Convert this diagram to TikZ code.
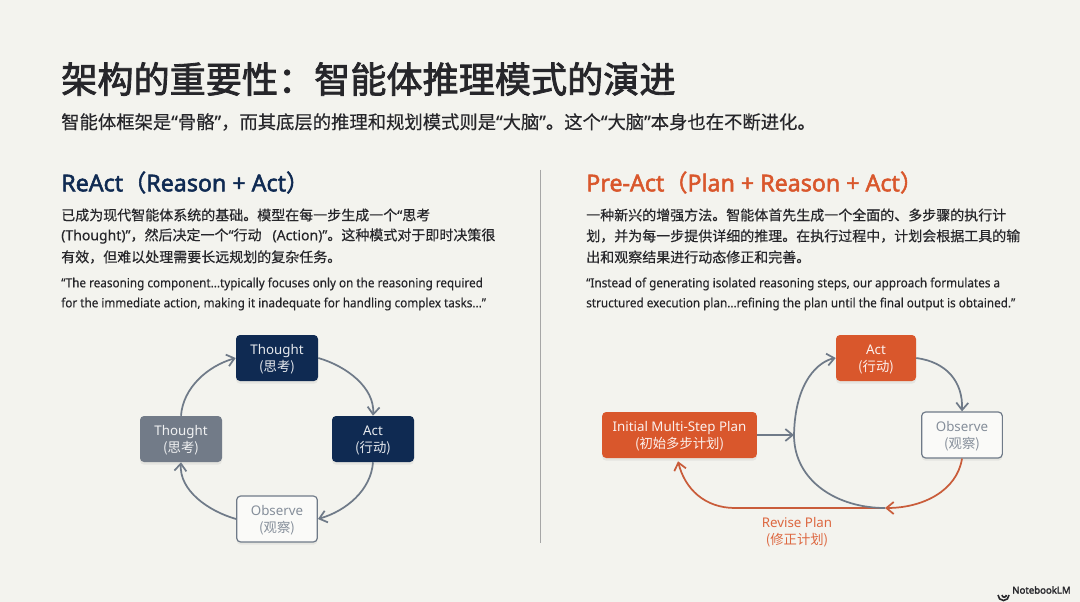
\documentclass[tikz,border=0pt]{standalone}
\usepackage{fontspec}
\setmainfont{Noto Sans CJK SC}
\newfontfamily\lat{Noto Sans}
\newfontfamily\latq[FakeStretch=0.93,FakeBold=0.3]{Noto Sans}
\newfontfamily\latb[FakeBold=0.3]{Noto Sans}
\newfontfamily\latmed[FakeBold=2.2]{Noto Sans}
\newfontfamily\cjkmed[FakeBold=2.2]{Noto Sans CJK SC}
\newfontfamily\cjkbody[FakeBold=0.35]{Noto Sans CJK SC}
\newcommand\qo{{\latb “}}
\newcommand\qc{{\latb ”}}
\newcommand\boxlines[2]{\raisebox{-1.2pt}[\height][\depth]{\begin{tabular}{@{}c@{}}{\lat #1}\\#2\end{tabular}}}
\usetikzlibrary{shadows,arrows.meta}
\definecolor{bgc}{HTML}{F3F3EE}
\definecolor{navy}{HTML}{0F2A52}
\definecolor{orng}{HTML}{D9572C}
\definecolor{slate}{HTML}{727B88}
\definecolor{ink}{HTML}{26262A}
\definecolor{arc}{HTML}{6F7A88}
\tikzset{
 txt/.style={anchor=west,inner sep=0pt,text=ink,font=\fontsize{10.5pt}{14pt}\selectfont\cjkbody},
 quoteline/.style={anchor=west,inner sep=0pt,text=ink,font=\fontsize{9.45pt}{14pt}\selectfont\latq},
 heading/.style={anchor=west,inner sep=0pt,font=\fontsize{17.4pt}{20pt}\selectfont\latmed},
 boxn/.style={rounded corners=3pt,minimum height=34.5pt,inner sep=0pt,
   font=\fontsize{10pt}{12.5pt}\selectfont,
   drop shadow={opacity=.12,shadow xshift=0pt,shadow yshift=-2pt}},
 darkbox/.style={boxn,minimum width=61.5pt,fill=navy,text=white!90!navy},
 graybox/.style={boxn,minimum width=61.5pt,fill=slate,text=white!90!slate},
 whitebox/.style={boxn,minimum width=60.5pt,fill=white!60!bgc,draw=arc,line width=.9pt,text=arc!85!white},
 orbox/.style={boxn,fill=orng,text=white!92!orng},
 conn/.style={draw=arc,line width=1.3pt,-{Straight Barb[length=5.5pt,width=9pt]}},
 connplain/.style={draw=arc,line width=1.3pt},
 connor/.style={draw=orng!85!arc,line width=1.3pt,-{Straight Barb[length=5.5pt,width=9pt]}},
 connorplain/.style={draw=orng!85!arc,line width=1.3pt},
}
\begin{document}
\begin{tikzpicture}[x=0.75pt,y=-0.75pt]
\useasboundingbox (0,0) rectangle (1080,602);
\fill[bgc] (0,0) rectangle (1080,602);
% title
\node[anchor=west,inner sep=0pt,text=ink,font=\fontsize{27.1pt}{30pt}\selectfont\cjkmed] (title) at (61,79) {架构的重要性：智能体推理模式的演进};
\node[anchor=west,inner sep=0pt,text=ink,font=\fontsize{13.75pt}{16pt}\selectfont\cjkbody] (sub) at (61,122) {智能体框架是\qo 骨骼\qc ，而其底层的推理和规划模式则是\qo 大脑\qc 。这个\qo 大脑\qc 本身也在不断进化。};
% divider
\coordinate (d1) at (540,170); \coordinate (d2) at (540,543);
\draw[draw=black!35,line width=.7pt] (d1) -- (d2);
% left column
\node[heading,text=navy] (lh) at (61,182.5) {ReAct{\cjkmed （}Reason + Act{\cjkmed ）}};
\node[txt] (l1) at (61,215) {已成为现代智能体系统的基础。模型在每一步生成一个\qo 思考};
\node[txt] (l2) at (61,236) {{\latb (Thought)”}，然后决定一个\qo 行动{\latb\ \ \ (Action)”}。这种模式对于即时决策很};
\node[txt] (l3) at (61,257) {有效，但难以处理需要长远规划的复杂任务。};
\node[quoteline] (l4) at (61,284) {“The reasoning component...typically focuses only on the reasoning required};
\node[quoteline] (l5) at (61,304) {for the immediate action, making it inadequate for handling complex tasks...”};
% right column
\node[heading,text=orng] (rh) at (586,182.5) {Pre-Act{\cjkmed （}Plan + Reason + Act{\cjkmed ）}};
\node[txt] (r1) at (586,215) {一种新兴的增强方法。智能体首先生成一个全面的、多步骤的执行计};
\node[txt] (r2) at (586,236) {划，并为每一步提供详细的推理。在执行过程中，计划会根据工具的输};
\node[txt] (r3) at (586,257) {出和观察结果进行动态修正和完善。};
\node[quoteline] (r4) at (586,284) {“Instead of generating isolated reasoning steps, our approach formulates a};
\node[quoteline] (r5) at (586,304) {structured execution plan...refining the plan until the final output is obtained.”};
% ReAct cycle
\node[darkbox] (t) at (277,358) {\boxlines{Thought}{(思考)}};
\node[darkbox] (a) at (373,439) {\boxlines{Act}{(行动)}};
\node[whitebox] (o) at (277,519) {\boxlines{Observe}{(观察)}};
\node[graybox] (g) at (181,439) {\boxlines{Thought}{(思考)}};
\draw[conn] (t.east) .. controls +(28,8) and +(2,-28) .. (a.north);
\draw[conn] (a.south) .. controls +(-2,28) and +(28,-8) .. (o.east);
\draw[conn] (o.west) .. controls +(-28,-8) and +(-2,28) .. (g.south);
\draw[conn] (g.north) .. controls +(2,-28) and +(-28,8) .. (t.west);
% Pre-Act cycle
\node[orbox,minimum width=60pt] (pa) at (876,358) {\boxlines{Act}{(行动)}};
\node[whitebox] (po) at (962,435) {\boxlines{Observe}{(观察)}};
\node[orbox,minimum width=116pt] (pi) at (679.5,435) {\boxlines{Initial Multi-Step Plan}{(初始多步计划)}};
\coordinate (pj) at (794,435);
\coordinate (pb) at (885,508);
\coordinate (pl) at (735,508);
\draw[connorplain] (pb) -- (pl);
\draw[connor] (pl) .. controls +(-30,0) and +(7,28) .. ([shift={(-1.5,3)}]pi.south);
\draw[connor] (po.south) .. controls +(-5,32) and +(38,0) .. (pb);
\draw[connplain] (pb) .. controls +(-48,0) and +(0,46) .. (pj);
\draw[conn] (pj) .. controls +(1,-55) and +(-16,3) .. (pa.west);
\draw[conn] (pi.east) -- (pj);
\draw[conn] (pa.east) .. controls +(30,4) and +(1,-30) .. (po.north);
\node[inner sep=0pt,align=center,text=orng!90!white,font=\fontsize{10pt}{13pt}\selectfont] (rv) at (797,532) {{\lat Revise Plan}\\(修正计划)};
% logo
\node[anchor=west,inner sep=0pt,text=ink,font=\fontsize{7.2pt}{10pt}\selectfont\latmed] (logo) at (1012,590) {NotebookLM};
\draw[ink,line width=1.2pt] (998,595) arc (180:0:5.5);
\draw[ink,line width=1.2pt] (1002,595) arc (180:0:2.2);
\end{tikzpicture}
\end{document}
